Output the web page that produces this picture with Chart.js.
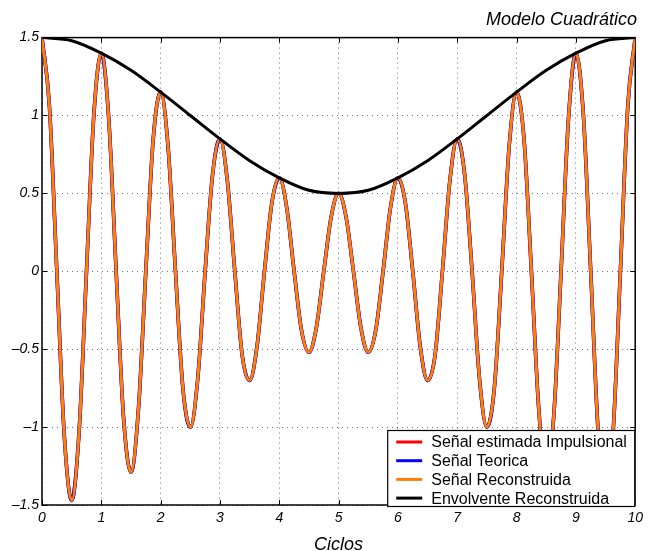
<!DOCTYPE html>
<html>
<head>
<meta charset="utf-8">
<script src="https://cdn.jsdelivr.net/npm/chart.js@4.4.0/dist/chart.umd.min.js"></script>
<style>
  html, body { margin: 0; padding: 0; background: #fff; }
  #wrap { width: 648px; height: 551px; }
</style>
</head>
<body>
<div id="wrap"><canvas id="grafico" width="648" height="551"></canvas></div>
<script>
const FONT = "'Liberation Sans', Arial, Helvetica, sans-serif";

// muestras de la señal (cada 1/8 de ciclo)
const ciclos = [
  0, 0.125, 0.25, 0.375, 0.5, 0.625, 0.75, 0.875,
  1, 1.125, 1.25, 1.375, 1.5, 1.625, 1.75, 1.875,
  2, 2.125, 2.25, 2.375, 2.5, 2.625, 2.75, 2.875,
  3, 3.125, 3.25, 3.375, 3.5, 3.625, 3.75, 3.875,
  4, 4.125, 4.25, 4.375, 4.5, 4.625, 4.75, 4.875,
  5, 5.125, 5.25, 5.375, 5.5, 5.625, 5.75, 5.875,
  6, 6.125, 6.25, 6.375, 6.5, 6.625, 6.75, 6.875,
  7, 7.125, 7.25, 7.375, 7.5, 7.625, 7.75, 7.875,
  8, 8.125, 8.25, 8.375, 8.5, 8.625, 8.75, 8.875,
  9, 9.125, 9.25, 9.375, 9.5, 9.625, 9.75, 9.875,
  10
];
const senal = [
  1.50, 1.06, 0, -1.05, -1.47, -1.03, 0, 1.01,
  1.40, 0.98, 0, -0.94, -1.29, -0.89, 0, 0.85,
  1.15, 0.80, 0, -0.75, -1.00, -0.69, 0, 0.62,
  0.85, 0.58, 0, -0.54, -0.70, -0.48, 0, 0.44,
  0.60, 0.41, 0, -0.38, -0.52, -0.36, 0, 0.35,
  0.50, 0.35, 0, -0.36, -0.52, -0.38, 0, 0.41,
  0.60, 0.44, 0, -0.48, -0.70, -0.54, 0, 0.58,
  0.85, 0.62, 0, -0.69, -1.00, -0.75, 0, 0.80,
  1.15, 0.85, 0, -0.89, -1.29, -0.94, 0, 0.98,
  1.40, 1.01, 0, -1.03, -1.47, -1.05, 0, 1.06,
  1.50
];

// envolvente (cada medio ciclo)
const ciclosEnv = [0, 0.5, 1, 1.5, 2, 2.5, 3, 3.5, 4, 4.5, 5, 5.5, 6, 6.5, 7, 7.5, 8, 8.5, 9, 9.5, 10];
const envolvente = [1.50, 1.48, 1.40, 1.29, 1.15, 1.00, 0.85, 0.71, 0.60, 0.52, 0.50,
                    0.52, 0.60, 0.71, 0.85, 1.00, 1.15, 1.29, 1.40, 1.48, 1.50];

const xTicks = [0, 1, 2, 3, 4, 5, 6, 7, 8, 9, 10];
const yTicks = [-1.5, -1, -0.5, 0, 0.5, 1, 1.5];

const nombres = ['Señal estimada Impulsional', 'Señal Teorica', 'Señal Reconstruida', 'Envolvente Reconstruida'];
const colores = ['#ff0000', '#0000ff', '#ff8000', '#000000'];

function puntos(xs, ys) {
  return xs.map((x, i) => ({ x: x, y: ys[i] }));
}

function fmt(v) {
  return v < 0 ? '\u2013' + Math.abs(v) : String(v);
}

// marco y marcas hacia dentro
const marco = {
  id: 'marco',
  beforeDatasetsDraw(chart) {
    const { ctx, chartArea: a, scales } = chart;
    ctx.save();
    ctx.strokeStyle = '#000';
    ctx.lineWidth = 1;
    ctx.beginPath();
    xTicks.forEach(v => {
      const px = Math.round(scales.x.getPixelForValue(v)) + 0.5;
      ctx.moveTo(px, a.bottom); ctx.lineTo(px, a.bottom - 5);
      ctx.moveTo(px, a.top); ctx.lineTo(px, a.top + 5);
    });
    yTicks.forEach(v => {
      const py = Math.round(scales.y.getPixelForValue(v)) + 0.5;
      ctx.moveTo(a.left, py); ctx.lineTo(a.left + 5, py);
      ctx.moveTo(a.right, py); ctx.lineTo(a.right - 5, py);
    });
    ctx.stroke();
    ctx.lineWidth = 1.5;
    ctx.strokeRect(a.left, a.top, a.right - a.left, a.bottom - a.top);
    ctx.restore();
  }
};

// leyenda dentro del área, abajo a la derecha
const leyenda = {
  id: 'leyenda',
  afterDraw(chart) {
    const { ctx, chartArea: a } = chart;
    const w = 248, h = 77;
    const x0 = a.right - w, y0 = a.bottom + 2 - h;
    ctx.save();
    ctx.fillStyle = '#fff';
    ctx.fillRect(x0, y0, w, h);
    ctx.strokeStyle = '#000';
    ctx.lineWidth = 1.2;
    ctx.strokeRect(x0 + 0.5, y0 + 0.5, w - 1, h - 1);
    ctx.font = '16px ' + FONT;
    ctx.textBaseline = 'middle';
    chart.data.datasets.forEach((ds, i) => {
      const yy = y0 + 12 + i * 18.7;
      ctx.strokeStyle = ds.borderColor;
      ctx.lineWidth = 3;
      ctx.beginPath();
      ctx.moveTo(x0 + 9, yy);
      ctx.lineTo(x0 + 35, yy);
      ctx.stroke();
      ctx.fillStyle = '#000';
      ctx.fillText(ds.label, x0 + 44, yy + 1);
    });
    ctx.restore();
  }
};

const grid = {
  color: 'rgba(0,0,0,0.55)',
  lineWidth: 1,
  drawTicks: false
};

new Chart(document.getElementById('grafico').getContext('2d'), {
  type: 'line',
  data: {
    datasets: [
      { label: nombres[0], data: puntos(ciclos, senal), borderColor: colores[0], borderWidth: 3.6, order: 3 },
      { label: nombres[1], data: puntos(ciclos, senal), borderColor: colores[1], borderWidth: 3.6, order: 2 },
      { label: nombres[2], data: puntos(ciclos, senal), borderColor: colores[2], borderWidth: 3, order: 1 },
      { label: nombres[3], data: puntos(ciclosEnv, envolvente), borderColor: colores[3], borderWidth: 3, order: 0 }
    ]
  },
  options: {
    responsive: false,
    animation: false,
    layout: { padding: { left: 0, right: 11, top: 0, bottom: 0 } },
    elements: {
      point: { radius: 0, hoverRadius: 0 },
      line: { cubicInterpolationMode: 'monotone', fill: false }
    },
    plugins: {
      legend: { display: false },
      tooltip: { enabled: false },
      title: {
        display: true,
        text: 'Modelo Cuadrático',
        align: 'end',
        color: '#000',
        font: { family: FONT, size: 18, style: 'italic', weight: 'normal' },
        padding: { top: 9, bottom: 7 }
      }
    },
    scales: {
      x: {
        type: 'linear',
        min: 0,
        max: 10,
        afterBuildTicks(s) { s.ticks = xTicks.map(v => ({ value: v })); },
        afterFit(s) { s.height = 46; },
        grid: Object.assign({ borderDash: [1, 4] }, grid),
        border: { display: false, dash: [1, 4] },
        ticks: {
          color: '#000',
          padding: 5,
          maxRotation: 0,
          font: { family: FONT, size: 14, style: 'italic' },
          callback: v => fmt(v)
        },
        title: {
          display: true,
          text: 'Ciclos',
          color: '#000',
          font: { family: FONT, size: 18, style: 'italic' },
          padding: { top: 0, bottom: -5 }
        }
      },
      y: {
        min: -1.5,
        max: 1.5,
        afterBuildTicks(s) { s.ticks = yTicks.map(v => ({ value: v })); },
        afterFit(s) { s.width = 42; },
        grid: grid,
        border: { display: false, dash: [1, 4] },
        ticks: {
          color: '#000',
          padding: 3,
          font: { family: FONT, size: 14, style: 'italic' },
          callback: v => fmt(v)
        }
      }
    }
  },
  plugins: [marco, leyenda]
});
</script>
</body>
</html>
